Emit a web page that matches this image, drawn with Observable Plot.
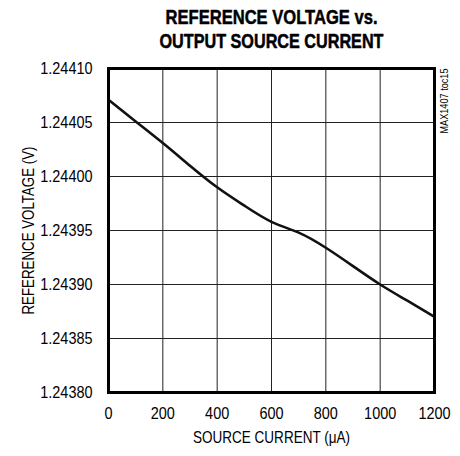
<!DOCTYPE html>
<html><head><meta charset="utf-8">
<script src="https://cdn.jsdelivr.net/npm/d3@7"></script>
<script src="https://cdn.jsdelivr.net/npm/@observablehq/plot@0.6"></script>
<style>
body{margin:0;background:#fff;}
</style>
</head><body>
<div id="chart"></div>
<script>
const current = [0, 100, 200, 300, 400, 500, 600, 700, 800, 900, 1000, 1100, 1200];
const voltage = [1.244071, 1.244051, 1.244031, 1.244010, 1.243990, 1.243973, 1.243958, 1.243948, 1.243934, 1.243917, 1.243900, 1.243885, 1.243870];
const xTicks = [0, 200, 400, 600, 800, 1000, 1200];
const yTicks = [1.24380, 1.24385, 1.24390, 1.24395, 1.24400, 1.24405, 1.24410];
const titleLines = ["REFERENCE VOLTAGE vs.", "OUTPUT SOURCE CURRENT"];
const xLabel = "SOURCE CURRENT (\u03BCA)";
const yLabel = "REFERENCE VOLTAGE (V)";
const tag = "MAX1407 toc15";

const data = current.map((c, i) => ({c, v: voltage[i]}));
const font = "'Liberation Sans', Arial, sans-serif";

const chart = Plot.plot({
  width: 460, height: 456,
  marginLeft: 108, marginRight: 26, marginTop: 68, marginBottom: 64,
  style: {fontFamily: font, fontSize: "17px", color: "#000", background: "#fff"},
  x: {domain: [0, 1200]},
  y: {domain: [1.24380, 1.24410]},
  marks: [
    Plot.gridX(xTicks, {stroke: "#222", strokeOpacity: 1, strokeWidth: 1}),
    Plot.gridY(yTicks, {stroke: "#222", strokeOpacity: 1, strokeWidth: 1}),
    Plot.axisX(xTicks, {tickSize: 0, tickPadding: 14, label: null, tickFormat: d3.format("d"), fontSize: 17}),
    Plot.axisY(yTicks, {tickSize: 0, tickPadding: 16, label: null, tickFormat: d3.format(".5f"), fontSize: 17}),
    Plot.line(data, {x: "c", y: "v", stroke: "#111", strokeWidth: 2.6, curve: "natural"}),
    Plot.frame({stroke: "#000", strokeWidth: 3}),
    Plot.text([xLabel], {frameAnchor: "bottom", dy: 45, fontSize: 17, lineAnchor: "middle"}),
    Plot.text([yLabel], {frameAnchor: "left", dx: -80, rotate: -90, textAnchor: "middle", fontSize: 17, lineAnchor: "middle"}),
    Plot.text([tag], {frameAnchor: "top-right", dx: 10, rotate: -90, textAnchor: "end", fontSize: 10, lineAnchor: "middle"}),
    Plot.text([titleLines[0]], {frameAnchor: "top", dy: -51, fontSize: 20.5, fontWeight: "bold", fill: "#000", stroke: "#000", strokeWidth: 0.5, lineAnchor: "middle"}),
    Plot.text([titleLines[1]], {frameAnchor: "top", dy: -27, fontSize: 20.5, fontWeight: "bold", fill: "#000", stroke: "#000", strokeWidth: 0.5, lineAnchor: "middle"})
  ]
});
document.getElementById("chart").appendChild(chart);

// condense text horizontally to mimic a narrow typeface
const targets = {};
targets[titleLines[0]] = 212;
targets[titleLines[1]] = 224;
targets[xLabel] = 157;
targets[yLabel] = 168;
targets[tag] = 65;
d3.select(chart).selectAll("text").each(function() {
  const t = this.textContent;
  const len = this.getComputedTextLength();
  const target = targets[t] != null ? targets[t] : len * 0.85;
  this.setAttribute("textLength", target);
  this.setAttribute("lengthAdjust", "spacingAndGlyphs");
});
</script>
</body></html>
